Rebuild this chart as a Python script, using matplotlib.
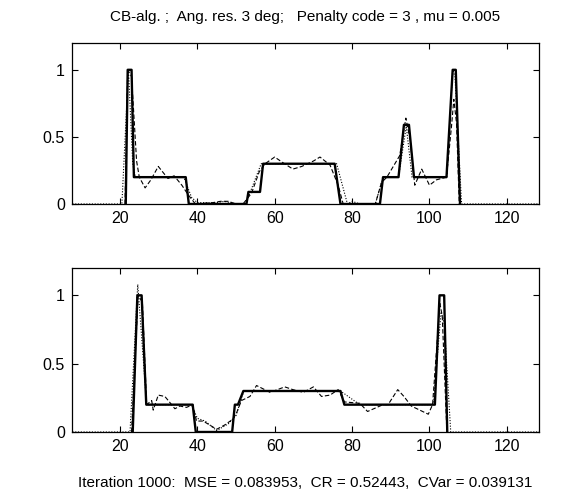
import matplotlib

matplotlib.use("Agg")

import matplotlib.pyplot as plt

plt.rcParams["font.family"] = ["Liberation Sans", "DejaVu Sans"]

title_text = "CB-alg. ;  Ang. res. 3 deg;   Penalty code = 3 , mu = 0.005"
footer_text = "Iteration 1000:  MSE = 0.083953,  CR = 0.52443,  CVar = 0.039131"

x_ticks = [20, 40, 60, 80, 100, 120]
y_ticks = [0, 0.5, 1]
y_tick_labels = ["0", "0.5", "1"]

# top panel
top_solid_x = [21.5, 22, 23, 23.6, 37, 37.8, 52.7, 53.2, 56.2, 57, 75.5, 77, 87.2, 88, 92, 93.4, 94.7, 96, 104.4, 106, 106.8, 107.9]
top_solid_y = [0, 1.0, 1.0, 0.2, 0.2, 0, 0, 0.09, 0.09, 0.3, 0.3, 0, 0, 0.2, 0.2, 0.59, 0.59, 0.2, 0.2, 1.0, 1.0, 0]

top_dot_x = [7, 20.5, 22.2, 23.3, 24, 36.5, 38.5, 40, 45, 47, 50, 52.5, 56.5, 76, 78.8, 80, 82, 86, 88, 92, 94, 95.5, 104.5, 106, 106.6, 108.3, 129]
top_dot_y = [0, 0, 1.0, 0.3, 0.2, 0.2, 0.05, 0.01, 0.01, 0.02, 0, 0, 0.3, 0.3, 0, 0.02, 0, 0, 0.2, 0.2, 0.58, 0.2, 0.2, 1.0, 0.95, 0, 0]

top_dash_x = [21.3, 22, 23, 24.3, 25, 26.5, 28, 29.9, 32.4, 34, 36, 37.6, 39.5, 44, 46, 48, 50, 51.8, 54, 56, 57.5, 60, 62, 64.7, 67, 70, 71.7, 74.3, 76.4, 77.7, 86, 87.6, 89, 92.3, 93.9, 95, 96.2, 98, 100, 101.8, 104.4, 105.7, 106.3, 107, 107.7]
top_dash_y = [0, 1.0, 0.95, 0.32, 0.2, 0.12, 0.18, 0.28, 0.19, 0.21, 0.14, 0.07, 0, 0.01, 0.02, 0.02, 0, 0, 0.08, 0.24, 0.3, 0.35, 0.31, 0.26, 0.28, 0.32, 0.35, 0.29, 0.14, 0, 0, 0.16, 0.2, 0.36, 0.64, 0.48, 0.14, 0.26, 0.14, 0.18, 0.2, 0.58, 0.78, 0.6, 0]

# bottom panel
bot_solid_x = [23.3, 24.5, 25.6, 26.8, 38.8, 39.6, 49, 49.7, 50.5, 51.9, 77, 78, 101.4, 102.6, 103.8, 104.6]
bot_solid_y = [0, 1.0, 1.0, 0.2, 0.2, 0, 0, 0.2, 0.2, 0.3, 0.3, 0.2, 0.2, 1.0, 1.0, 0]

bot_dot_x = [7, 22.6, 24.6, 26.9, 38.5, 40, 42, 45, 48, 50, 52, 77, 82, 101, 103, 103.8, 105.5, 129]
bot_dot_y = [0, 0, 1.08, 0.2, 0.2, 0.1, 0.08, 0.01, 0.06, 0.12, 0.3, 0.3, 0.2, 0.2, 0.88, 0.8, 0, 0]

bot_dash_x = [23, 24.7, 25.8, 26.9, 28.2, 28.6, 29.9, 31.6, 32.5, 34.2, 35.5, 37.2, 38.8, 39.8, 41.5, 45, 47, 49, 50, 51.4, 53.6, 55.3, 58.8, 62.6, 64.7, 67.4, 70, 72.1, 74.3, 76.4, 78, 82, 84, 88, 89.3, 91.8, 93.4, 95.3, 99.7, 100.8, 102.7, 103.3, 104.5]
bot_dash_y = [0, 1.0, 0.95, 0.2, 0.23, 0.16, 0.27, 0.26, 0.23, 0.17, 0.19, 0.18, 0.2, 0.08, 0.08, 0.02, 0.05, 0.09, 0.13, 0.23, 0.26, 0.34, 0.29, 0.33, 0.31, 0.29, 0.33, 0.26, 0.27, 0.31, 0.22, 0.21, 0.15, 0.2, 0.2, 0.31, 0.26, 0.19, 0.13, 0.2, 0.94, 0.85, 0]


def _style(ax):
    ax.set_xlim(7.6, 128.3)
    ax.set_ylim(0, 1.2)
    ax.set_xticks(x_ticks)
    ax.set_yticks(y_ticks)
    ax.set_yticklabels(y_tick_labels)
    ax.tick_params(direction="in", length=4, width=0.8, top=True, right=True, labelsize=11.5, pad=5)
    for spine in ax.spines.values():
        spine.set_linewidth(0.9)


fig = plt.figure(figsize=(5.65, 4.95), dpi=100)
ax1 = fig.add_axes([0.1274, 0.5879, 0.8265, 0.3253])
ax2 = fig.add_axes([0.1274, 0.1273, 0.8265, 0.3313])

for ax, sx, sy, dx, dy, ex, ey in [
    (ax1, top_solid_x, top_solid_y, top_dot_x, top_dot_y, top_dash_x, top_dash_y),
    (ax2, bot_solid_x, bot_solid_y, bot_dot_x, bot_dot_y, bot_dash_x, bot_dash_y),
]:
    ax.plot(dx, dy, color="black", lw=0.8, linestyle=(0, (1, 1.5)))
    ax.plot(ex, ey, color="black", lw=0.8, linestyle=(0, (4, 2)))
    ax.plot(sx, sy, color="black", lw=1.7)
    _style(ax)

ax1.set_title(title_text, fontsize=11, pad=16)
ax2.set_xlabel(footer_text, fontsize=11, labelpad=16)

fig.savefig("out.png", dpi=100)
plt.close(fig)
